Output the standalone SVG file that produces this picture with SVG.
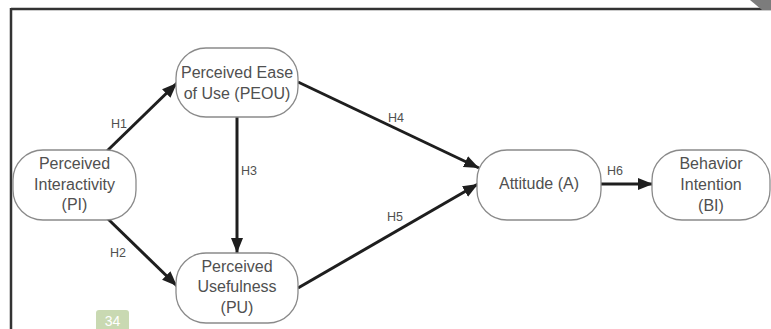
<svg xmlns="http://www.w3.org/2000/svg" width="771" height="329" viewBox="0 0 771 329">
<style>
.node rect{fill:#fff;stroke:#8a8a8a;stroke-width:1.3}
.node text{font-family:"Liberation Sans",Arial,sans-serif;font-size:16px;fill:#505050;text-anchor:middle}
.conn line{stroke:#1e1e1e;stroke-width:3}
.lbl{font-family:"Liberation Sans",Arial,sans-serif;font-size:12.5px;fill:#505050}
</style>
<defs>
<marker id="ah" markerUnits="userSpaceOnUse" markerWidth="16" markerHeight="14" viewBox="0 0 16 14" refX="15" refY="7" orient="auto">
<path d="M0,1 L15,7 L0,13 Z" fill="#1e1e1e"/>
</marker>
</defs>
<rect x="0" y="0" width="771" height="329" fill="#fff"/>
<g id="frame">
<line x1="11" y1="9" x2="771" y2="9" stroke="#333" stroke-width="2.5"/>
<line x1="11" y1="8" x2="11" y2="329" stroke="#333" stroke-width="2.5"/>
<polygon points="750,0 771,0 771,10 762,10" fill="#7c7c7c"/>
</g>
<g class="conn" id="connectors">
<line x1="107" y1="151" x2="177" y2="83" marker-end="url(#ah)"/>
<line x1="107" y1="218" x2="177" y2="286" marker-end="url(#ah)"/>
<line x1="237" y1="117" x2="237" y2="253" marker-end="url(#ah)"/>
<line x1="298" y1="82" x2="479" y2="168" marker-end="url(#ah)"/>
<line x1="298" y1="288" x2="478" y2="184" marker-end="url(#ah)"/>
<line x1="601" y1="184" x2="653" y2="184" marker-end="url(#ah)"/>
<text class="lbl" x="111" y="128">H1</text>
<text class="lbl" x="110" y="257">H2</text>
<text class="lbl" x="241" y="175">H3</text>
<text class="lbl" x="388" y="122">H4</text>
<text class="lbl" x="387" y="221">H5</text>
<text class="lbl" x="607" y="175">H6</text>
</g>
<g class="node" id="PI">
<rect x="13" y="150" width="123" height="70" rx="30"/>
<text x="74.5" y="169">Perceived</text>
<text x="74.5" y="190">Interactivity</text>
<text x="74.5" y="210">(PI)</text>
</g>
<g class="node" id="PEOU">
<rect x="176" y="48" width="122" height="69" rx="30"/>
<text x="237" y="78">Perceived Ease</text>
<text x="237" y="99">of Use (PEOU)</text>
</g>
<g class="node" id="PU">
<rect x="176" y="253" width="122" height="70" rx="30"/>
<text x="237" y="272">Perceived</text>
<text x="237" y="292">Usefulness</text>
<text x="237" y="313">(PU)</text>
</g>
<g class="node" id="A">
<rect x="477" y="150" width="124" height="70" rx="30"/>
<text x="539" y="189">Attitude (A)</text>
</g>
<g class="node" id="BI">
<rect x="652" y="150" width="118" height="70" rx="30"/>
<text x="711" y="169">Behavior</text>
<text x="711" y="190">Intention</text>
<text x="711" y="211">(BI)</text>
</g>
<g id="badge">
<rect x="96" y="310" width="33" height="26" rx="3" fill="#c9d9b2"/>
<text x="112.5" y="326" font-family="Liberation Sans,Arial,sans-serif" font-size="14" fill="#fff" text-anchor="middle">34</text>
</g>
</svg>
